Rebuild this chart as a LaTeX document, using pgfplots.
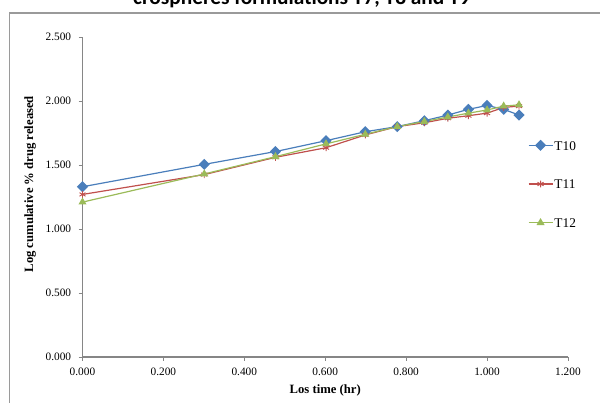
\documentclass[border=0pt]{standalone}
\usepackage{pgfplots}
\pgfplotsset{compat=1.18}
\usepackage{fontspec}
\setmainfont{Liberation Serif}
\newfontfamily\titlefont{Carlito}
\definecolor{sBlue}{HTML}{4A7EBB}
\definecolor{sRed}{HTML}{C0504D}
\definecolor{sGreen}{HTML}{9BBB59}
\definecolor{axGray}{HTML}{868686}
\definecolor{frGray}{HTML}{9A9A9A}
\begin{document}
\begin{tikzpicture}
\begin{axis}[
  at={(0pt,0pt)}, anchor=south west,
  scale only axis, width=364.1pt, height=240pt,
  xmin=0, xmax=1.2, ymin=0, ymax=2.5,
  xtick={0,0.2,...,1.2}, ytick={0,0.5,...,2.5},
  axis x line*=bottom, axis y line*=left,
  axis line style={axGray, line width=0.8pt, -},
  tick style={axGray, line width=0.6pt},
  major tick length=3pt, tick align=outside,
  /pgf/number format/assume math mode=true,
  xticklabel style={font=\fontsize{8.5}{10}\selectfont, /pgf/number format/.cd, fixed, fixed zerofill, precision=3, assume math mode=true},
  yticklabel style={font=\fontsize{8.5}{10}\selectfont, /pgf/number format/.cd, fixed, fixed zerofill, precision=3, assume math mode=true},
  xticklabel shift=2pt, yticklabel shift=2pt,
  xlabel={Los time (hr)},
  ylabel={Log cumulative \% drug released},
  xlabel style={font=\bfseries\fontsize{9.5}{11}\selectfont, at={(axis description cs:0.5,-0.103)}, anchor=center},
  ylabel style={font=\bfseries\fontsize{9.5}{11}\selectfont, at={(axis description cs:-0.108,0.54)}, anchor=center, rotate=0},
  legend style={at={(rel axis cs:0.917,0.681)}, anchor=north west, draw=none, fill=none,
    font=\fontsize{10}{12}\selectfont, row sep=20pt, inner sep=0pt,
    nodes={inner sep=1pt, text height=7pt, text depth=0pt}},
  legend cell align=left,
  legend image code/.code={\draw[mark repeat=2,mark phase=2,#1] plot coordinates {(0pt,0pt) (9pt,0pt) (18pt,0pt)};},
]
\addplot[color=sBlue, line width=0.9pt, mark=square*, mark size=2.5pt, mark options={rotate=45, fill=sBlue, draw=sBlue}] coordinates {
(0,1.33) (0.301,1.505) (0.477,1.605) (0.602,1.69) (0.699,1.76) (0.778,1.80)
(0.845,1.846) (0.903,1.89) (0.954,1.935) (1.000,1.965) (1.041,1.935) (1.079,1.89)};
\addlegendentry{T10}
\addplot[color=sRed, line width=0.9pt, mark=asterisk, mark size=2.6pt, mark options={line width=0.7pt}] coordinates {
(0,1.27) (0.301,1.425) (0.477,1.56) (0.602,1.635) (0.699,1.735) (0.778,1.80)
(0.845,1.83) (0.903,1.865) (0.954,1.885) (1.000,1.905) (1.041,1.95) (1.079,1.96)};
\addlegendentry{T11}
\addplot[color=sGreen, line width=0.9pt, mark=triangle*, mark size=2.6pt, mark options={fill=sGreen}] coordinates {
(0,1.21) (0.301,1.43) (0.477,1.565) (0.602,1.665) (0.699,1.74) (0.778,1.80)
(0.845,1.84) (0.903,1.875) (0.954,1.905) (1.000,1.93) (1.041,1.96) (1.079,1.97)};
\addlegendentry{T12}
\end{axis}
\draw[frGray, line width=0.8pt] (-54.75pt,-40pt) -- (-54.75pt,258pt) -- (400pt,258pt);
\node[anchor=base, font=\titlefont\bfseries\fontsize{16}{19}\selectfont] at (164.5pt,264.5pt) {crospheres formulations T7, T8 and T9};
\pgfresetboundingbox
\useasboundingbox (-61.875pt,-34.5pt) rectangle (388.125pt,267.75pt);
\end{tikzpicture}
\end{document}
